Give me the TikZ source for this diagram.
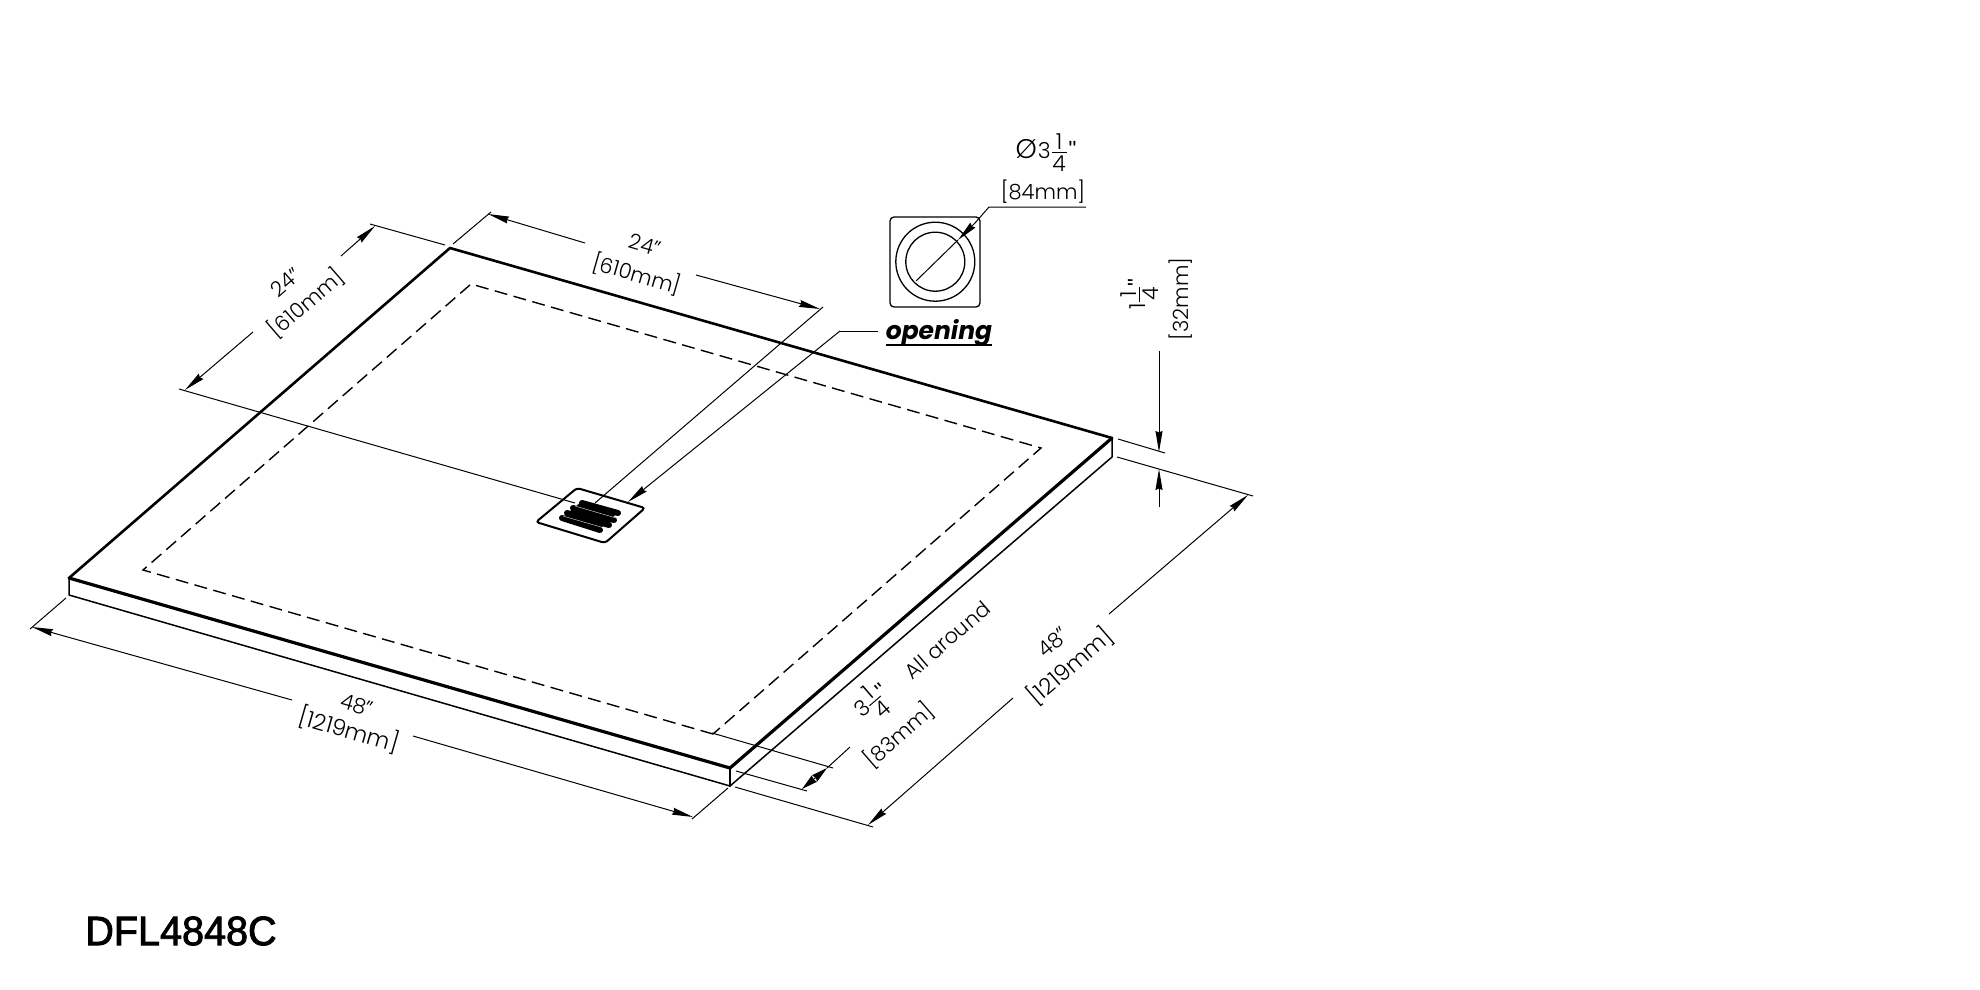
\documentclass[tikz,border=0pt]{standalone}
\usepackage{fontspec}
\usetikzlibrary{arrows.meta}
\setmainfont{Poppins}[UprightFont=* Light]
\newfontfamily\ofont{Poppins}[UprightFont=* Bold Italic]
\newfontfamily\lfont{Liberation Sans}
\newfontfamily\tfont{Liberation Sans}[FakeBold=2.2]
\newcommand\myfrac[2]{\kern1pt$\vcenter{\offinterlineskip\hbox to 15pt{\hss#1\hss}\kern2.5pt\hrule height 1pt\kern3pt\hbox to 15pt{\hss#2\hss}}$}
\newcommand\inchmark{\raisebox{2pt}{\lfont"}}
\newcommand\undl[1]{\setbox0\hbox{#1}\rlap{\rule[-6pt]{\wd0}{2pt}}\box0}
\tikzset{
  x=1pt,y=-1pt,
  dimtext/.style={inner sep=0pt,font=\fontsize{21}{23}\selectfont},
  alongA/.style={dimtext,rotate=-16},
  alongB/.style={dimtext,rotate=40.8},
  thin line/.style={line width=1pt},
  edge line/.style={line width=1.5pt,line cap=round,line join=round},
  heavy line/.style={line width=3.2pt,line cap=round,line join=round},
  dim tip/.style={thin line,-{Stealth[length=21pt,width=7pt,inset=1.5pt]}},
  dim both/.style={thin line,{Stealth[length=16pt,width=8pt,inset=1pt]}-{Stealth[length=16pt,width=8pt,inset=1pt]}},
}
\begin{document}
\begin{tikzpicture}
\useasboundingbox (0,0) rectangle (1980,990);
% slab corners
\coordinate (L) at (69,578);
\coordinate (Lb) at (69,595);
\coordinate (T) at (450,248);
\coordinate (R) at (1112,438);
\coordinate (Rb) at (1112,457);
\coordinate (F) at (730,768);
\coordinate (Fb) at (730,786);
% slab
\draw[heavy line,line width=2.6pt] (L) -- (T) -- (R);
\draw[heavy line] (L) -- (F) -- (R);
\draw[edge line] (L) -- (Lb) -- (Fb) -- (Rb) -- (R);
\draw[edge line,line width=2.6pt] (F) -- (Fb);
% inner dashed outline
\coordinate (iT) at (471,284);
\coordinate (iR) at (1041,448);
\coordinate (iF) at (713,734);
\coordinate (iL) at (143,570);
\draw[line width=1.4pt,dash pattern=on 13pt off 6.5pt] (iF) -- (iL) -- (iT) -- (iR) -- cycle;
% drain
\coordinate (d1) at (577,488);
\coordinate (d2) at (645,508);
\coordinate (d3) at (605,543);
\coordinate (d4) at (536,522);
\draw[line width=2pt,rounded corners=3pt] (d1) -- (d2) -- (d3) -- (d4) -- cycle;
\fill[black] (581,502) -- (618,512.5) -- (600,529) -- (562,518) -- cycle;
\draw[line width=6pt,line cap=round] (582,503) -- (618,513) (573,508) -- (614,520) (567,513) -- (609,525) (562,518) -- (600,530);
\draw[white,line width=.35pt] (575,506) -- (616,518) (563,516) -- (606,528.5);
% extension lines
\coordinate (e1) at (370,224);
\coordinate (e2) at (445,245);
\coordinate (e3) at (179,389);
\coordinate (e4) at (575,503);
\coordinate (e5) at (453,244);
\coordinate (e6) at (491,212);
\coordinate (e7) at (823,307);
\coordinate (e8) at (595,503);
\coordinate (e9) at (66,598);
\coordinate (e10) at (30,629);
\coordinate (e11) at (692,819);
\coordinate (e12) at (728,788);
\coordinate (e13) at (735,787);
\coordinate (e14) at (873,827);
\coordinate (e15) at (1117,457);
\coordinate (e16) at (1253,496);
\coordinate (e17) at (1118,439);
\coordinate (e18) at (1165,453);
\coordinate (e19) at (712,733);
\coordinate (e20) at (833,768);
\coordinate (e21) at (736,771);
\coordinate (e22) at (807,791);
\draw[thin line] (e1)--(e2) (e3)--(e4) (e5)--(e6) (e7)--(e8) (e9)--(e10) (e11)--(e12) (e13)--(e14) (e15)--(e16) (e17)--(e18) (e19)--(e20) (e21)--(e22);
% dimension lines: 24 left
\coordinate (a1) at (253,332); \coordinate (a1t) at (185,390);
\coordinate (a2) at (341,256); \coordinate (a2t) at (375,226);
\draw[dim tip] (a1) -- (a1t);
\draw[dim tip] (a2) -- (a2t);
% 24 top
\coordinate (b1) at (585,243); \coordinate (b1t) at (488,214);
\coordinate (b2) at (696,275); \coordinate (b2t) at (820,309);
\draw[dim tip] (b1) -- (b1t);
\draw[dim tip] (b2) -- (b2t);
% 48 front
\coordinate (c1) at (292,700); \coordinate (c1t) at (32,627);
\coordinate (c2) at (413,736); \coordinate (c2t) at (693,817);
\draw[dim tip] (c1) -- (c1t);
\draw[dim tip] (c2) -- (c2t);
% 48 right
\coordinate (f1) at (1013,698); \coordinate (f1t) at (868,825);
\coordinate (f2) at (1109,614); \coordinate (f2t) at (1248,495);
\draw[dim tip] (f1) -- (f1t);
\draw[dim tip] (f2) -- (f2t);
% 1 1/4 vertical
\coordinate (g1) at (1159,351); \coordinate (g1t) at (1159,452);
\coordinate (g2) at (1159,507); \coordinate (g2t) at (1159,469);
\draw[dim tip] (g1) -- (g1t);
\draw[dim tip] (g2) -- (g2t);
% 3 1/4 all around
\coordinate (h1) at (802,789); \coordinate (h2) at (827,768); \coordinate (h3) at (850,747);
\draw[dim both] (h2) -- (h1);
\draw[thin line] (h2) -- (h3);
% opening leader
\coordinate (o0) at (878,331); \coordinate (o1) at (840,331); \coordinate (ot) at (628,502);
\draw[thin line] (o0) -- (o1);
\draw[dim tip] (o1) -- (ot);
% inset detail
\draw[line width=1.3pt,rounded corners=4pt] (890,217) rectangle (980,307);
\coordinate (cc) at (935.3,261.7);
\draw[line width=1.3pt] (cc) circle[radius=39.5];
\draw[line width=1.3pt] (cc) circle[radius=29.5];
\coordinate (p1) at (916,281); \coordinate (p2) at (958,240); \coordinate (p3) at (975,223); \coordinate (p4) at (989,207); \coordinate (p5) at (1086,207);
\draw[thin line] (p1) -- (p2);
\draw[dim tip] (p3) -- (p2);
\draw[thin line] (p3) -- (p4) -- (p5);
% text
\node[dimtext,font=\fontsize{22}{24}\selectfont] (phi) at (1046,153) {{\fontsize{27}{29}\selectfont Ø}\kern1pt 3\myfrac{1}{4}\kern2pt\inchmark};
\node[dimtext] (t84) at (1043,192) {[84mm]};
\node[inner sep=0pt,font=\fontsize{25}{27}\ofont] (opening) at (939,333) {\undl{opening}};
\node[dimtext,rotate=90,font=\fontsize{22}{24}\selectfont] (t114) at (1140,294) {1\myfrac{1}{4}\inchmark};
\node[dimtext,rotate=90] (t32) at (1181,299) {[32mm]};
\node[alongA] (t24a) at (645,245) {24"};
\node[alongA] (t610a) at (637,274) {[610mm]};
\node[alongB] (t24b) at (286,282) {24"};
\node[alongB] (t610b) at (306,303) {[610mm]};
\node[alongA] (t48a) at (357,705) {48"};
\node[alongA,font=\fontsize{22.5}{24}\selectfont] (t1219a) at (349,730) {[1219mm]};
\node[alongB] (t48b) at (1053,642) {48"};
\node[alongB,font=\fontsize{22.5}{24}\selectfont] (t1219b) at (1070,666) {[1219mm]};
\node[alongB,font=\fontsize{22}{24}\selectfont] (t314) at (873,703) {3\myfrac{1}{4}\inchmark};
\node[alongB] (t83) at (899,735) {[83mm]};
\node[alongB] (tall) at (947,640) {All around};
\node[inner sep=0pt,font=\fontsize{41}{44}\tfont,xscale=.965,transform shape] (title) at (181,931) {DFL4848C};
\end{tikzpicture}
\end{document}
